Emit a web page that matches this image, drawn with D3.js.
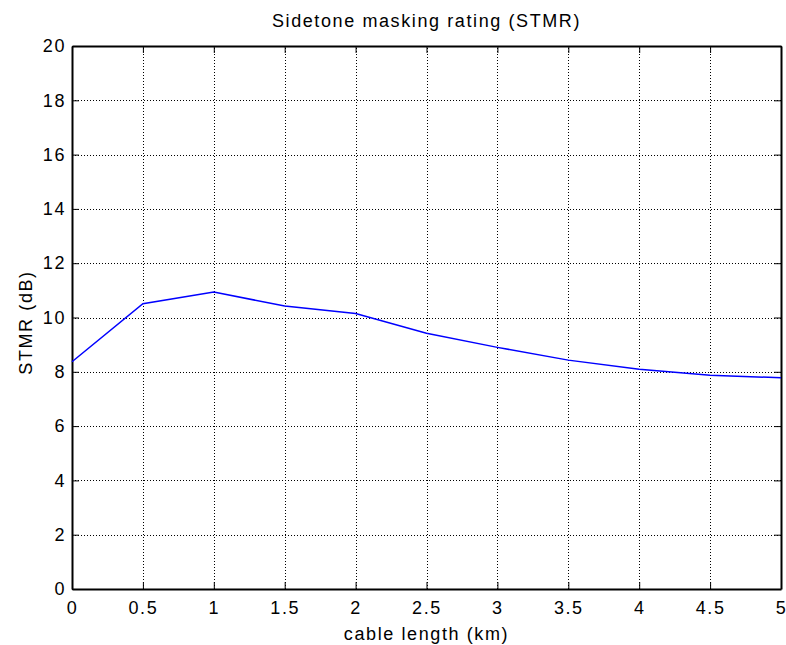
<!DOCTYPE html>
<html><head><meta charset="utf-8">
<script src="https://cdn.jsdelivr.net/npm/d3@7"></script>
<style>body{margin:0;background:#fff;} svg{display:block;} text{font-family:"Liberation Sans",Arial,sans-serif;}</style>
</head><body>
<script>
const cableLength = [0, 0.5, 1, 1.5, 2, 2.5, 3, 3.5, 4, 4.5, 5];
const stmr = [8.37, 10.51, 10.94, 10.42, 10.15, 9.42, 8.90, 8.43, 8.09, 7.87, 7.78];
const xTicks = [0, 0.5, 1, 1.5, 2, 2.5, 3, 3.5, 4, 4.5, 5];
const yTicks = [0, 2, 4, 6, 8, 10, 12, 14, 16, 18, 20];

const W = 786, H = 645;
const m = {left: 72, right: 5, top: 46, bottom: 56};
const svg = d3.select("body").append("svg").attr("width", W).attr("height", H);
const x = d3.scaleLinear().domain([0, 5]).range([m.left, W - m.right]);
const y = d3.scaleLinear().domain([0, 20]).range([H - m.bottom, m.top]);
const FS = "18px", LS = "1.6px";

const g = svg.append("g");
g.selectAll(".vg").data(xTicks.slice(1, -1)).enter().append("line")
  .attr("x1", d => Math.round(x(d)) + 0.5).attr("x2", d => Math.round(x(d)) + 0.5)
  .attr("y1", y(0)).attr("y2", y(20))
  .attr("stroke", "#000").attr("stroke-width", 1).attr("stroke-dasharray", "1,2");
g.selectAll(".hg").data(yTicks.slice(1, -1)).enter().append("line")
  .attr("y1", d => Math.round(y(d)) + 0.5).attr("y2", d => Math.round(y(d)) + 0.5)
  .attr("x1", x(0)).attr("x2", x(5))
  .attr("stroke", "#000").attr("stroke-width", 1).attr("stroke-dasharray", "1,2");

const xa = svg.append("g").attr("transform", `translate(0,${y(0)})`)
  .call(d3.axisBottom(x).tickValues(xTicks).tickSizeInner(-7).tickSizeOuter(0).tickPadding(12).tickFormat(d3.format("")));
const xa2 = svg.append("g").attr("transform", `translate(0,${y(20)})`)
  .call(d3.axisTop(x).tickValues(xTicks).tickSizeInner(-7).tickSizeOuter(0).tickFormat(""));
const ya = svg.append("g").attr("transform", `translate(${x(0)},0)`)
  .call(d3.axisLeft(y).tickValues(yTicks).tickSizeInner(-7).tickSizeOuter(0).tickPadding(6));
const ya2 = svg.append("g").attr("transform", `translate(${x(5)},0)`)
  .call(d3.axisRight(y).tickValues(yTicks).tickSizeInner(-7).tickSizeOuter(0).tickFormat(""));
[xa, xa2, ya, ya2].forEach(a => {
  a.selectAll("path").attr("stroke", "#000").attr("stroke-width", 2);
  a.selectAll("line").attr("stroke", "#000").attr("stroke-width", 1);
  a.selectAll("text").attr("font-size", FS).attr("fill", "#000").style("letter-spacing", LS)
    .style("font-family", "'Liberation Sans',Arial,sans-serif");
});

svg.append("path").datum(cableLength.map((d, i) => [d, stmr[i]]))
  .attr("d", d3.line().x(d => x(d[0])).y(d => y(d[1])))
  .attr("fill", "none").attr("stroke", "#0000ff").attr("stroke-width", 1.5);

svg.append("text").attr("x", (x(0) + x(5)) / 2).attr("y", 27).attr("text-anchor", "middle")
  .attr("font-size", FS).style("letter-spacing", LS).text("Sidetone masking rating (STMR)");
svg.append("text").attr("x", (x(0) + x(5)) / 2).attr("y", 640).attr("text-anchor", "middle")
  .attr("font-size", FS).style("letter-spacing", LS).text("cable length (km)");
svg.append("text").attr("transform", `translate(32,${(y(0) + y(20)) / 2 + 5}) rotate(-90)`).attr("text-anchor", "middle")
  .attr("font-size", FS).style("letter-spacing", LS).text("STMR (dB)");
</script>
</body></html>
